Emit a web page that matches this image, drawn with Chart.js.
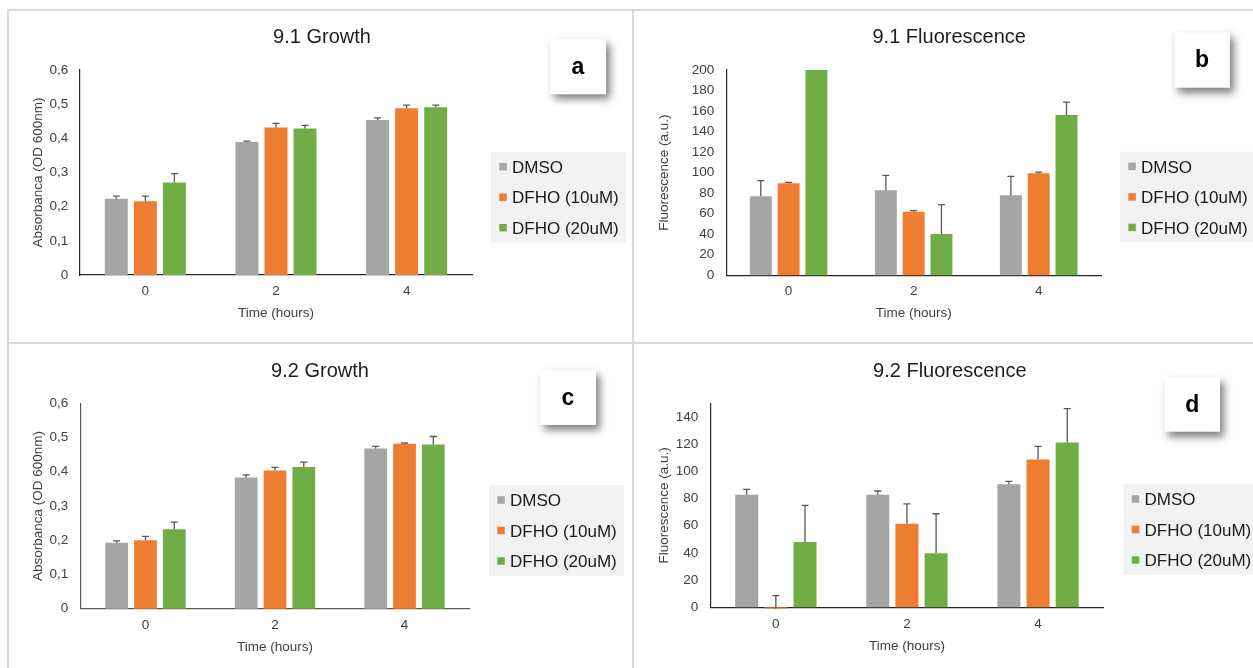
<!DOCTYPE html>
<html>
<head>
<meta charset="utf-8">
<script src="https://cdn.jsdelivr.net/npm/chart.js@4.4.1/dist/chart.umd.min.js"></script>
<style>
  html, body { margin: 0; padding: 0; background: #ffffff; width: 1253px; height: 668px; overflow: hidden; }
  canvas { position: absolute; left: 0; top: 0; }
  .rule { position: absolute; background: #d9d9d9; }
</style>
</head>
<body>
<div class="rule" style="left:7px;top:9px;width:1246px;height:2px"></div>
<div class="rule" style="left:7px;top:342px;width:1246px;height:2px"></div>
<div class="rule" style="left:7px;top:9px;width:2px;height:659px"></div>
<div class="rule" style="left:632px;top:9px;width:2px;height:659px"></div>
<canvas id="growth91" width="1253" height="668"></canvas>
<canvas id="fluor91" width="1253" height="668"></canvas>
<canvas id="growth92" width="1253" height="668"></canvas>
<canvas id="fluor92" width="1253" height="668"></canvas>
<script>
// Categories and series
const timeLabels = ['0', '2', '4'];
const seriesNames = ['DMSO', 'DFHO (10uM)', 'DFHO (20uM)'];
const seriesColors = ['#a5a5a5', '#ed7d31', '#70ad47'];

// Tick labels
const absorbanceTickValues = [0, 0.1, 0.2, 0.3, 0.4, 0.5, 0.6];
const absorbanceTickLabels = ['0', '0,1', '0,2', '0,3', '0,4', '0,5', '0,6'];
const fluor91TickValues = [0, 20, 40, 60, 80, 100, 120, 140, 160, 180, 200];
const fluor91TickLabels = ['0', '20', '40', '60', '80', '100', '120', '140', '160', '180', '200'];
const fluor92TickValues = [0, 20, 40, 60, 80, 100, 120, 140];
const fluor92TickLabels = ['0', '20', '40', '60', '80', '100', '120', '140'];

// 9.1 Growth (OD 600nm) and upper error amounts
const growth91Dmso = [0.223, 0.389, 0.454];
const growth91Dfho10 = [0.216, 0.432, 0.488];
const growth91Dfho20 = [0.271, 0.429, 0.491];
const growth91DmsoErr = [0.008, 0.003, 0.006];
const growth91Dfho10Err = [0.015, 0.012, 0.009];
const growth91Dfho20Err = [0.026, 0.009, 0.006];

// 9.1 Fluorescence (a.u.)
const fluor91Dmso = [76.9, 82.8, 77.9];
const fluor91Dfho10 = [89.6, 62.0, 99.4];
const fluor91Dfho20 = [200, 40.3, 156.2];
const fluor91DmsoErr = [15.3, 14.6, 18.5];
const fluor91Dfho10Err = [1.0, 1.0, 1.2];
const fluor91Dfho20Err = [0, 28.5, 12.6];

// 9.2 Growth (OD 600nm)
const growth92Dmso = [0.193, 0.383, 0.468];
const growth92Dfho10 = [0.200, 0.404, 0.482];
const growth92Dfho20 = [0.232, 0.414, 0.480];
const growth92DmsoErr = [0.005, 0.008, 0.006];
const growth92Dfho10Err = [0.011, 0.009, 0.002];
const growth92Dfho20Err = [0.021, 0.014, 0.023];

// 9.2 Fluorescence (a.u.)
const fluor92Dmso = [82.8, 82.8, 90.4];
const fluor92Dfho10 = [-1.0, 61.4, 108.6];
const fluor92Dfho20 = [48.1, 39.8, 121.1];
const fluor92DmsoErr = [3.9, 2.7, 2.2];
const fluor92Dfho10Err = [9.6, 14.7, 9.8];
const fluor92Dfho20Err = [26.8, 29.0, 25.0];

const FONT = '"Liberation Sans", Arial, Helvetica, sans-serif';
const PAGE_W = 1253, PAGE_H = 668;
const AXIS_FONT_SIZE = 13.5;

// Upper error bars with a cap, drawn from each bar's value
function errorBars(plus) {
  return {
    id: 'errorBars',
    afterDatasetsDraw(chart) {
      const ctx = chart.ctx;
      const yScale = chart.scales.y;
      ctx.save();
      ctx.strokeStyle = '#595959';
      ctx.lineWidth = 1.3;
      chart.data.datasets.forEach((ds, i) => {
        chart.getDatasetMeta(i).data.forEach((bar, j) => {
          const e = plus[i][j];
          if (!e) return;
          const y0 = yScale.getPixelForValue(ds.data[j]);
          const y1 = yScale.getPixelForValue(ds.data[j] + e);
          ctx.beginPath();
          ctx.moveTo(bar.x, y0);
          ctx.lineTo(bar.x, y1);
          ctx.moveTo(bar.x - 3.5, y1);
          ctx.lineTo(bar.x + 3.5, y1);
          ctx.stroke();
        });
      });
      ctx.restore();
    }
  };
}

// Panel title, lettered tag box and the shaded legend
function panelDecor(p) {
  return {
    id: 'panelDecor',
    afterDraw(chart) {
      const ctx = chart.ctx;
      ctx.save();
      ctx.textBaseline = 'alphabetic';

      ctx.font = '20px ' + FONT;
      ctx.fillStyle = '#1e1e1e';
      ctx.textAlign = 'center';
      ctx.fillText(p.title.text, p.title.x, p.title.y);

      ctx.save();
      ctx.shadowColor = 'rgba(0,0,0,0.5)';
      ctx.shadowBlur = 8;
      ctx.shadowOffsetX = 4;
      ctx.shadowOffsetY = 5;
      ctx.fillStyle = '#ffffff';
      ctx.fillRect(p.tag.x, p.tag.y, p.tag.w, p.tag.h);
      ctx.restore();
      ctx.font = 'bold 23px ' + FONT;
      ctx.fillStyle = '#000000';
      ctx.fillText(p.tag.text, p.tag.x + p.tag.w / 2, p.tag.y + 35);

      const lg = p.legend;
      ctx.fillStyle = '#f2f2f2';
      ctx.fillRect(lg.x, lg.y, 135, 90.5);
      ctx.font = '17px ' + FONT;
      ctx.textAlign = 'left';
      chart.data.datasets.forEach((ds, i) => {
        const cy = lg.y + 14.7 + i * 30.5;
        ctx.fillStyle = ds.backgroundColor;
        ctx.fillRect(lg.x + 8.3, cy - 3.75, 7.5, 7.5);
        ctx.fillStyle = '#1a1a1a';
        ctx.fillText(ds.label, lg.x + 21, cy + 6.1);
      });
      ctx.restore();
    }
  };
}

function buildPanel(id, p) {
  const lh = AXIS_FONT_SIZE * 1.2;
  const yLeft = p.yTitleX - lh / 2;
  const yWidth = p.area.left - yLeft;
  const xHeight = p.xTitleY + lh / 2 - p.area.bottom;
  const axisFont = { family: FONT, size: AXIS_FONT_SIZE };
  return new Chart(document.getElementById(id), {
    type: 'bar',
    data: {
      labels: timeLabels,
      datasets: p.series.map((vals, i) => ({
        label: seriesNames[i],
        data: vals,
        backgroundColor: seriesColors[i],
        borderWidth: 0,
        barPercentage: 0.79,
        categoryPercentage: 0.667,
        clip: false
      }))
    },
    options: {
      responsive: false,
      animation: false,
      events: [],
      layout: {
        padding: {
          left: yLeft,
          top: p.area.top,
          right: PAGE_W - p.area.right,
          bottom: PAGE_H - p.area.bottom - xHeight
        }
      },
      plugins: {
        legend: { display: false },
        tooltip: { enabled: false },
        title: { display: false }
      },
      scales: {
        x: {
          grid: { display: false, drawTicks: false },
          border: { display: true, color: p.axisColor, width: 1.2 },
          ticks: { font: axisFont, color: '#404040', padding: p.xTickCenter - p.area.bottom - lh / 2 },
          title: { display: true, text: 'Time (hours)', font: axisFont, color: '#404040', padding: 0 },
          afterFit: s => { s.height = xHeight; }
        },
        y: {
          min: p.min,
          max: p.max,
          grid: { display: false, drawTicks: false },
          border: { display: true, color: p.axisColor, width: 1.2 },
          afterBuildTicks: s => { s.ticks = p.tickValues.map(v => ({ value: v })); },
          ticks: {
            font: axisFont,
            color: '#404040',
            padding: p.yTickPad,
            autoSkip: false,
            callback: (v, i) => p.tickLabels[i]
          },
          title: { display: true, text: p.yTitle, font: axisFont, color: '#404040', padding: 0 },
          afterFit: s => { s.width = yWidth; }
        }
      }
    },
    plugins: [errorBars(p.errors), panelDecor(p)]
  });
}

buildPanel('growth91', {
  series: [growth91Dmso, growth91Dfho10, growth91Dfho20],
  errors: [growth91DmsoErr, growth91Dfho10Err, growth91Dfho20Err],
  min: 0, max: 0.6, tickValues: absorbanceTickValues, tickLabels: absorbanceTickLabels,
  yTitle: 'Absorbanca (OD 600nm)',
  area: { left: 80, right: 472, top: 70, bottom: 275 },
  yTitleX: 38, xTitleY: 313.7, yTickPad: 11.7, xTickCenter: 291.7, axisColor: '#262626',
  title: { text: '9.1 Growth', x: 322, y: 43.3 },
  tag: { text: 'a', x: 550, y: 39.3, w: 56, h: 55 },
  legend: { x: 491, y: 152 }
});

buildPanel('fluor91', {
  series: [fluor91Dmso, fluor91Dfho10, fluor91Dfho20],
  errors: [fluor91DmsoErr, fluor91Dfho10Err, fluor91Dfho20Err],
  min: 0, max: 200, tickValues: fluor91TickValues, tickLabels: fluor91TickLabels,
  yTitle: 'Fluorescence (a.u.)',
  area: { left: 726.1, right: 1101.2, top: 70, bottom: 275.3 },
  yTitleX: 663.8, xTitleY: 313.7, yTickPad: 11.9, xTickCenter: 291.7, axisColor: '#262626',
  title: { text: '9.1 Fluorescence', x: 949.2, y: 43.3 },
  tag: { text: 'b', x: 1174.3, y: 32.3, w: 55.6, h: 55.4 },
  legend: { x: 1120, y: 151.7 }
});

buildPanel('growth92', {
  series: [growth92Dmso, growth92Dfho10, growth92Dfho20],
  errors: [growth92DmsoErr, growth92Dfho10Err, growth92Dfho20Err],
  min: 0, max: 0.6, tickValues: absorbanceTickValues, tickLabels: absorbanceTickLabels,
  yTitle: 'Absorbanca (OD 600nm)',
  area: { left: 80.7, right: 469.3, top: 403.3, bottom: 608.7 },
  yTitleX: 38.3, xTitleY: 647, yTickPad: 12.4, xTickCenter: 625, axisColor: '#595959',
  title: { text: '9.2 Growth', x: 320, y: 376.7 },
  tag: { text: 'c', x: 540, y: 370, w: 56, h: 55 },
  legend: { x: 489, y: 485.3 }
});

buildPanel('fluor92', {
  series: [fluor92Dmso, fluor92Dfho10, fluor92Dfho20],
  errors: [fluor92DmsoErr, fluor92Dfho10Err, fluor92Dfho20Err],
  min: 0, max: 150, tickValues: fluor92TickValues, tickLabels: fluor92TickLabels,
  yTitle: 'Fluorescence (a.u.)',
  area: { left: 710.3, right: 1103.6, top: 403.3, bottom: 607.3 },
  yTitleX: 663.8, xTitleY: 646.3, yTickPad: 12, xTickCenter: 624.3, axisColor: '#262626',
  title: { text: '9.2 Fluorescence', x: 949.8, y: 376.7 },
  tag: { text: 'd', x: 1164.4, y: 376.7, w: 55.6, h: 55 },
  legend: { x: 1123.5, y: 484.3 }
});
</script>
</body>
</html>
